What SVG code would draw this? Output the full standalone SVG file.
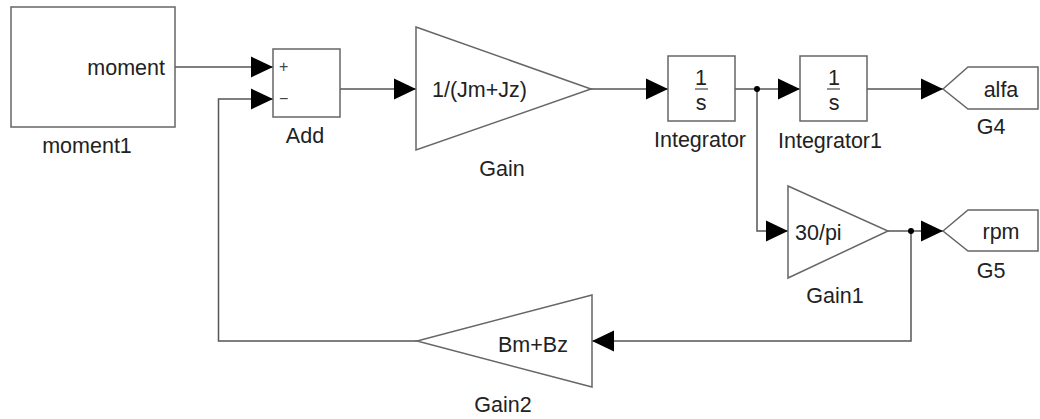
<svg xmlns="http://www.w3.org/2000/svg" width="1040" height="419" viewBox="0 0 1040 419">
  <style>
    .blk { fill: #fff; stroke: #666; stroke-width: 1.5; }
    .wire { fill: none; stroke: #555; stroke-width: 1.5; }
    .t { font-family: "Liberation Sans", Arial, sans-serif; font-size: 21.5px; fill: #222; }
    .m { text-anchor: middle; }
    .e { text-anchor: end; }
    .s { font-size: 16px; fill: #444; }
  </style>
  <defs>
    <marker id="arr" markerUnits="userSpaceOnUse" markerWidth="22" markerHeight="22" viewBox="0 0 21 20" refX="21" refY="10" orient="auto">
      <path d="M0,0 L21,10 L0,20 Z" fill="#000"/>
    </marker>
  </defs>

  <g id="connectors">
    <!-- moment1 -> Add (+) -->
    <path class="wire" d="M175,67 H273" marker-end="url(#arr)"/>
    <!-- Add -> Gain -->
    <path class="wire" d="M340,89 H416" marker-end="url(#arr)"/>
    <!-- Gain -> Integrator -->
    <path class="wire" d="M591,89 H668" marker-end="url(#arr)"/>
    <!-- Integrator -> Integrator1 -->
    <path class="wire" d="M735,89 H800" marker-end="url(#arr)"/>
    <!-- branch to Gain1 -->
    <path class="wire" d="M757,89 V231 H788" marker-end="url(#arr)"/>
    <!-- Integrator1 -> G4 -->
    <path class="wire" d="M867,89 H943" marker-end="url(#arr)"/>
    <!-- Gain1 -> G5 -->
    <path class="wire" d="M888,231 H943" marker-end="url(#arr)"/>
    <!-- branch to Gain2 -->
    <path class="wire" d="M911,231 V341 H592" marker-end="url(#arr)"/>
    <!-- Gain2 -> Add (-) -->
    <path class="wire" d="M417,341 H218.5 V99 H273" marker-end="url(#arr)"/>
    <circle cx="757" cy="89" r="3" fill="#000"/>
    <circle cx="911" cy="231" r="3" fill="#000"/>
  </g>

  <g id="moment1">
    <rect class="blk" x="11" y="7" width="164" height="120"/>
    <text class="t e" x="165" y="75">moment</text>
    <text class="t m" x="87" y="153">moment1</text>
  </g>

  <g id="add">
    <rect class="blk" x="273" y="49" width="67" height="68"/>
    <text class="t s" x="279" y="72">+</text>
    <text class="t s" x="279" y="104">−</text>
    <text class="t m" x="305" y="143">Add</text>
  </g>

  <g id="gain">
    <polygon class="blk" points="416,27 591,89 416,150"/>
    <text class="t" x="432" y="97">1/(Jm+Jz)</text>
    <text class="t m" x="502" y="176">Gain</text>
  </g>

  <g id="integrator">
    <rect class="blk" x="668" y="56" width="67" height="65"/>
    <text class="t m" x="701" y="85">1</text>
    <line x1="695" y1="89" x2="708" y2="89" stroke="#222" stroke-width="1"/>
    <text class="t m" x="701" y="110">s</text>
    <text class="t m" x="700" y="147">Integrator</text>
  </g>

  <g id="integrator1">
    <rect class="blk" x="800" y="56" width="67" height="65"/>
    <text class="t m" x="834" y="85">1</text>
    <line x1="827" y1="89" x2="840" y2="89" stroke="#222" stroke-width="1"/>
    <text class="t m" x="834" y="110">s</text>
    <text class="t m" x="830" y="148">Integrator1</text>
  </g>

  <g id="g4">
    <polygon class="blk" points="943,89 968,67 1038,67 1038,109 968,109"/>
    <text class="t m" x="1001" y="97">alfa</text>
    <text class="t m" x="991" y="134">G4</text>
  </g>

  <g id="gain1">
    <polygon class="blk" points="788,186 888,231 788,278"/>
    <text class="t" x="795" y="240">30/pi</text>
    <text class="t m" x="835" y="303">Gain1</text>
  </g>

  <g id="g5">
    <polygon class="blk" points="943,231 968,210 1038,210 1038,251 968,251"/>
    <text class="t m" x="1001" y="239">rpm</text>
    <text class="t m" x="991" y="278">G5</text>
  </g>

  <g id="gain2">
    <polygon class="blk" points="592,295 417,341 592,387"/>
    <text class="t" x="498" y="352">Bm+Bz</text>
    <text class="t m" x="503" y="412">Gain2</text>
  </g>
</svg>
